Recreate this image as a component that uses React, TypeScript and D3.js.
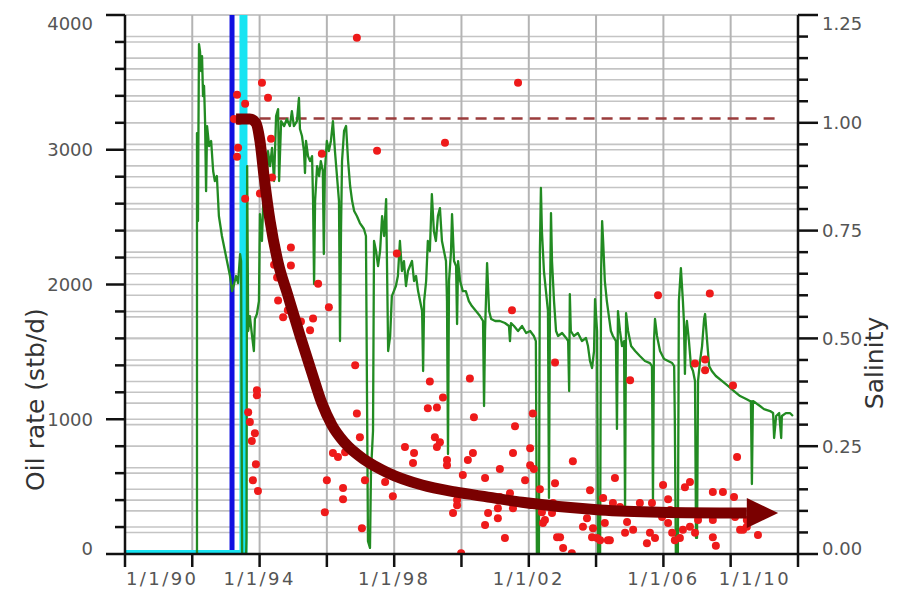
import React from 'react';
import * as d3 from 'd3';

// Oil rate (stb/d) over time, [decimal year, rate]
const oilRate: [number, number][] = [
  [1992.12, 0], [1992.14, 0], [1992.14, 3124], [1992.17, 2471], [1992.18, 2990], [1992.2, 3784],
  [1992.23, 3732], [1992.26, 3584], [1992.29, 3695], [1992.32, 3398], [1992.35, 3473], [1992.38, 3213],
  [1992.41, 2693], [1992.44, 3176], [1992.5, 3027], [1992.56, 3065], [1992.62, 2842], [1992.67, 2768],
  [1992.73, 2805], [1992.79, 2508], [1992.88, 2360], [1992.97, 2248], [1993.06, 2137], [1993.12, 2063],
  [1993.18, 1951], [1993.24, 2003], [1993.3, 2063], [1993.36, 2011], [1993.42, 2226], [1993.45, 2174],
  [1993.48, 0], [1993.6, 0], [1993.61, 119], [1993.63, 2879], [1993.66, 1655], [1993.71, 1766],
  [1993.77, 1632], [1993.83, 1506], [1993.86, 1744], [1993.92, 1781], [1993.98, 1877], [1994.01, 2523],
  [1994.07, 2323], [1994.13, 2768], [1994.19, 2582], [1994.25, 2990], [1994.31, 2879], [1994.37, 3013],
  [1994.43, 2768], [1994.49, 3250], [1994.55, 3302], [1994.58, 2768], [1994.64, 3213], [1994.73, 3176],
  [1994.81, 3228], [1994.9, 3176], [1994.96, 3287], [1995.02, 3176], [1995.11, 3213], [1995.17, 3384],
  [1995.2, 3154], [1995.26, 3102], [1995.32, 2990], [1995.35, 2827], [1995.38, 3065], [1995.44, 2953],
  [1995.5, 2916], [1995.56, 2953], [1995.59, 2619], [1995.62, 2003], [1995.65, 2619], [1995.71, 2879],
  [1995.77, 2805], [1995.82, 2916], [1995.88, 2842], [1995.91, 2226], [1995.94, 2842], [1996.0, 3065],
  [1996.06, 2990], [1996.12, 3065], [1996.18, 3213], [1996.24, 2990], [1996.3, 2805], [1996.36, 2619],
  [1996.39, 1580], [1996.42, 2397], [1996.45, 2916], [1996.51, 3139], [1996.57, 3176], [1996.63, 2916],
  [1996.69, 2731], [1996.75, 2619], [1996.81, 2545], [1996.89, 2508], [1996.98, 2456], [1997.04, 2434],
  [1997.1, 2412], [1997.16, 2360], [1997.22, 96], [1997.28, 45], [1997.31, 616], [1997.37, 913],
  [1997.4, 2323], [1997.46, 2248], [1997.52, 2137], [1997.58, 2248], [1997.64, 2508], [1997.7, 2360],
  [1997.76, 2634], [1997.82, 1506], [1997.88, 1618], [1997.93, 1914], [1997.99, 1951], [1998.05, 1989],
  [1998.11, 2063], [1998.17, 2323], [1998.23, 2100], [1998.29, 2174], [1998.35, 1989], [1998.41, 2100],
  [1998.47, 2137], [1998.53, 2174], [1998.59, 2026], [1998.65, 2063], [1998.71, 1951], [1998.77, 1877],
  [1998.83, 1803], [1998.86, 1358], [1998.89, 1877], [1998.95, 2026], [1999.0, 2323], [1999.06, 2248],
  [1999.12, 2671], [1999.18, 2397], [1999.24, 2323], [1999.3, 2508], [1999.36, 2567], [1999.42, 2323],
  [1999.48, 2248], [1999.54, 2174], [1999.57, 1877], [1999.6, 742], [1999.63, 2026], [1999.69, 2248],
  [1999.72, 2523], [1999.78, 2174], [1999.84, 2137], [1999.87, 1707], [1999.9, 2174], [1999.96, 2026],
  [2000.04, 1951], [2000.13, 1951], [2000.22, 1877], [2000.31, 1840], [2000.43, 1803], [2000.55, 1766],
  [2000.64, 1729], [2000.67, 1098], [2000.7, 1655], [2000.76, 2159], [2000.82, 1803], [2000.88, 1744],
  [2001.0, 1729], [2001.14, 1729], [2001.29, 1714], [2001.41, 1692], [2001.44, 1580], [2001.47, 1714],
  [2001.56, 1692], [2001.68, 1655], [2001.8, 1692], [2001.92, 1640], [2002.04, 1655], [2002.15, 1618],
  [2002.21, 1580], [2002.24, 0], [2002.3, 0], [2002.33, 2248], [2002.36, 2716], [2002.39, 2397],
  [2002.45, 2100], [2002.51, 1951], [2002.57, 1803], [2002.6, 416], [2002.63, 1877], [2002.66, 2530],
  [2002.69, 2174], [2002.75, 1877], [2002.81, 1655], [2002.87, 1618], [2002.99, 1640], [2003.11, 1603],
  [2003.17, 1580], [2003.2, 1209], [2003.22, 1929], [2003.25, 1655], [2003.34, 1618], [2003.46, 1640],
  [2003.58, 1580], [2003.7, 1603], [2003.76, 1543], [2003.82, 1432], [2003.88, 1380], [2003.94, 1506],
  [2003.97, 1892], [2004.03, 1655], [2004.06, 0], [2004.12, 0], [2004.15, 2100], [2004.18, 2471],
  [2004.21, 2323], [2004.26, 2026], [2004.32, 1877], [2004.38, 1766], [2004.44, 1655], [2004.5, 1618],
  [2004.59, 1580], [2004.62, 928], [2004.65, 1803], [2004.71, 1655], [2004.77, 1543], [2004.83, 1580],
  [2004.86, 319], [2004.89, 1788], [2004.95, 1655], [2005.04, 1543], [2005.16, 1506], [2005.3, 1469],
  [2005.45, 1432], [2005.6, 1417], [2005.66, 1395], [2005.69, 393], [2005.72, 1580], [2005.75, 1744],
  [2005.81, 1618], [2005.9, 1506], [2006.02, 1447], [2006.14, 1432], [2006.26, 1417], [2006.32, 1395],
  [2006.34, 987], [2006.37, 0], [2006.43, 0], [2006.46, 1877], [2006.52, 2122], [2006.58, 1877],
  [2006.61, 1729], [2006.64, 1336], [2006.67, 1655], [2006.7, 1729], [2006.76, 1580], [2006.82, 1395],
  [2006.88, 1358], [2006.94, 1284], [2006.97, 119], [2007.0, 119], [2007.03, 1284], [2007.09, 1432],
  [2007.15, 1543], [2007.21, 1744], [2007.24, 1781], [2007.3, 1580], [2007.36, 1395], [2007.44, 1358],
  [2007.56, 1321], [2007.74, 1284], [2007.92, 1247], [2008.1, 1209], [2008.28, 1172], [2008.46, 1150],
  [2008.57, 1135], [2008.6, 1135], [2008.63, 519], [2008.66, 1135], [2008.75, 1120], [2008.87, 1098],
  [2008.99, 1075], [2009.17, 1061], [2009.26, 1046], [2009.29, 861], [2009.35, 1024], [2009.44, 1046],
  [2009.5, 861], [2009.52, 1024], [2009.64, 1046], [2009.76, 1046], [2009.85, 1024],
];

// Measured produced-water salinity, [decimal year, salinity]
const salinitySamples: [number, number][] = [
  [1994.07, 1.093], [1994.25, 1.058], [1993.33, 1.065], [1993.57, 1.044], [1993.24, 1.009], [1993.39, 1.005],
  [1993.36, 0.942], [1993.33, 0.921], [1993.57, 0.824], [1994.34, 0.963], [1994.37, 0.873], [1994.01, 0.836],
  [1994.93, 0.711], [1994.93, 0.669], [1994.43, 0.671], [1994.52, 0.641], [1994.55, 0.588], [1994.7, 0.549],
  [1994.84, 0.565], [1995.23, 0.539], [1995.59, 0.546], [1995.5, 0.519], [1993.92, 0.38], [1993.92, 0.368],
  [1993.66, 0.329], [1993.71, 0.306], [1993.86, 0.28], [1993.77, 0.262], [1993.89, 0.208], [1993.8, 0.171],
  [1993.95, 0.146], [1995.85, 0.928], [1995.74, 0.627], [1996.06, 0.572], [1996.84, 0.438], [1997.49, 0.935],
  [1999.51, 0.954], [2001.68, 1.093], [1996.89, 1.197], [1998.08, 0.697], [2001.5, 0.565], [1996.89, 0.326],
  [1996.98, 0.271], [1996.18, 0.234], [1996.33, 0.225], [1996.54, 0.236], [1996.0, 0.171], [1996.48, 0.153],
  [1996.48, 0.127], [1995.94, 0.097], [1997.04, 0.06], [1997.13, 0.171], [1997.73, 0.167], [1997.96, 0.134],
  [1998.32, 0.248], [1998.59, 0.234], [1998.56, 0.211], [1999.06, 0.4], [1999.0, 0.338], [1999.27, 0.34],
  [1999.45, 0.363], [1999.21, 0.271], [1999.36, 0.259], [1999.27, 0.248], [1999.57, 0.218], [1999.57, 0.206],
  [2000.25, 0.407], [2000.37, 0.317], [2000.34, 0.234], [2000.19, 0.218], [2000.04, 0.183], [1999.87, 0.125],
  [1999.87, 0.113], [1999.75, 0.095], [1999.99, 0.002], [2000.7, 0.176], [2001.14, 0.197], [2000.79, 0.095],
  [2001.08, 0.083], [2000.7, 0.067], [2001.29, 0.037], [2001.59, 0.296], [2001.53, 0.234], [2002.12, 0.326],
  [2002.04, 0.245], [2002.04, 0.206], [2002.15, 0.197], [2001.89, 0.171], [2002.78, 0.444], [2002.78, 0.164],
  [2002.33, 0.15], [2002.42, 0.072], [2002.84, 0.039], [2003.02, 0.014], [2003.28, 0.002], [2003.31, 0.215],
  [2003.82, 0.148], [2003.73, 0.083], [2003.91, 0.06], [2004.03, 0.037], [2002.39, 0.097], [2002.69, 0.095],
  [2001.95, 0.118], [2001.53, 0.106], [2001.14, 0.132], [2001.44, 0.141], [2000.76, 0.132], [2001.08, 0.106],
  [2005.01, 0.403], [2004.56, 0.176], [2005.99, 0.16], [2006.14, 0.127], [2006.79, 0.167], [2006.64, 0.155],
  [2008.19, 0.225], [2007.47, 0.144], [2007.77, 0.144], [2008.1, 0.132], [2006.94, 0.442], [2007.24, 0.451],
  [2007.24, 0.426], [2008.07, 0.391], [2008.37, 0.056], [2008.81, 0.044], [2007.56, 0.019], [2004.21, 0.13],
  [2004.5, 0.118], [2004.26, 0.072], [2004.41, 0.032], [2004.92, 0.074], [2004.86, 0.049], [2005.6, 0.049],
  [2005.75, 0.037], [2005.51, 0.025], [2005.3, 0.118], [2005.66, 0.118], [2006.2, 0.102], [2006.14, 0.072],
  [2006.26, 0.049], [2006.34, 0.032], [2006.49, 0.037], [2006.58, 0.056], [2006.79, 0.063], [2006.94, 0.049],
  [2007.03, 0.079], [2007.18, 0.095], [2007.47, 0.079], [2008.13, 0.086], [2008.48, 0.063], [2008.48, 0.079],
  [2005.1, 0.056], [2005.96, 0.086], [2005.84, 0.6], [2007.38, 0.604], [2002.93, 0.039], [2003.61, 0.063],
  [2003.88, 0.039], [2004.12, 0.032], [2004.35, 0.032], [2004.71, 0.109], [2005.22, 0.095], [2002.72, 0.118],
  [2002.48, 0.079], [2007.47, 0.039], [2008.28, 0.056],
];

// Salinity decline trend, last point is the arrow tip
const salinityTrend: [number, number][] = [
  [1993.3, 1.009], [1993.71, 1.009], [1993.89, 1.0], [1994.01, 0.958], [1994.13, 0.877], [1994.31, 0.773],
  [1994.55, 0.676], [1994.84, 0.6], [1995.2, 0.507], [1995.56, 0.419], [1995.85, 0.35], [1996.15, 0.299],
  [1996.54, 0.257], [1997.13, 0.218], [1997.82, 0.188], [1998.83, 0.16], [1999.81, 0.144], [2000.79, 0.132],
  [2001.8, 0.12], [2004.12, 0.102], [2005.9, 0.097], [2008.48, 0.095], [2009.41, 0.095],
];

// Initial (formation water) salinity reference
const initialSalinity: [number, number][] = [[1994.0, 1.01], [2009.35, 1.01]];

// Injection curve (cyan) and the first-event marker date (blue)
const injection: [number, number][] = [[1990.0, 0], [1993.52, 0], [1993.52, 4600]];
const markerYear = 1993.18;

const rateLabels = [0, 1000, 2000, 3000, 4000];
const salinityLabels = ['0.00', '0.25', '0.50', '0.75', '1.00', '1.25'];
const dateLabelYears = [1990, 1994, 1998, 2002, 2006, 2010];

const W = 900;
const H = 589;
const L = 125;
const R = 798;
const T = 15;
const B = 554;

const toDate = (y: number) => {
  const yr = Math.floor(y);
  const a = new Date(yr, 0, 1).getTime();
  const b = new Date(yr + 1, 0, 1).getTime();
  return new Date(a + (y - yr) * (b - a));
};

export default function App() {
  const x = d3.scaleTime().domain([new Date(1990, 0, 1), new Date(2010, 0, 1)]).range([L, R]);
  const yRate = d3.scaleLinear().domain([0, 4000]).range([B, T]);
  const ySal = d3.scaleLinear().domain([0, 1.25]).range([B, T]);
  const fmt = d3.timeFormat('%-m/%-d/%y');

  const rateLine = d3.line<[number, number]>().x((d) => x(toDate(d[0]))).y((d) => yRate(d[1]));
  const salLine = d3.line<[number, number]>().x((d) => x(toDate(d[0]))).y((d) => ySal(d[1]));
  const trendLine = d3
    .line<[number, number]>()
    .x((d) => x(toDate(d[0])))
    .y((d) => ySal(d[1]))
    .curve(d3.curveMonotoneX);

  const yearTicks = x.ticks(d3.timeYear.every(2) as any);
  const rateTicks = d3.range(0, 4001, 200);
  const salTicks = d3.range(0, 26).map((i) => i * 0.05);

  const shaft = salinityTrend.slice(0, -1);
  const base = salinityTrend[salinityTrend.length - 2];
  const tip = salinityTrend[salinityTrend.length - 1];
  const bx = x(toDate(base[0]));
  const by = ySal(base[1]);
  const tx = x(toDate(tip[0]));
  const ty = ySal(tip[1]);
  const head = `M${bx},${by - 15}L${tx},${ty}L${bx},${by + 15}Z`;

  const font = 'DejaVu Sans, Verdana, sans-serif';

  const leftLabelY = (v: number) => {
    const yy = yRate(v);
    if (v === 4000) return yy + 15;
    if (v === 0) return yy + 1;
    return yy + 6.5;
  };
  const rightLabelY = (i: number) => {
    const yy = ySal(i * 0.25);
    if (i === 5) return yy + 15;
    if (i === 0) return yy + 1;
    return yy + 6.5;
  };

  return (
    <svg
      width={W}
      height={H}
      style={{ position: 'absolute', left: 0, top: 0, background: '#fff' }}
      fontFamily={font}
    >
      <defs>
        <clipPath id="plot-clip">
          <rect x={L} y={T} width={R - L} height={B - T} />
        </clipPath>
      </defs>
      <rect x={0} y={0} width={W} height={H} fill="#fff" />

      {/* grid */}
      <g stroke="#c4c4c4" strokeWidth={1.6}>
        {rateTicks.map((v) => (
          <line key={'gr' + v} x1={L} x2={R} y1={yRate(v)} y2={yRate(v)} />
        ))}
        {salTicks.map((v, i) => (
          <line key={'gs' + i} x1={L} x2={R} y1={ySal(v)} y2={ySal(v)} />
        ))}
      </g>
      <g stroke="#b4b4b4" strokeWidth={2}>
        {yearTicks.map((d, i) => (
          <line key={'gv' + i} x1={x(d)} x2={x(d)} y1={T} y2={B} />
        ))}
      </g>

      <g clipPath="url(#plot-clip)">
        <line
          x1={x(toDate(markerYear))}
          x2={x(toDate(markerYear))}
          y1={T}
          y2={B - 3}
          stroke="#1010e0"
          strokeWidth={5}
        />
        <path d={rateLine(injection) || ''} fill="none" stroke="#18e4f2" strokeWidth={8} />
        <path d={salLine(initialSalinity) || ''} fill="none" stroke="#9a3c3c" strokeWidth={2.5} strokeDasharray="11 7" />
        <path d={rateLine(oilRate) || ''} fill="none" stroke="#228b22" strokeWidth={2.3} strokeLinejoin="round" />
        {salinitySamples.map((d, i) => (
          <circle key={'s' + i} cx={x(toDate(d[0]))} cy={ySal(d[1])} r={4} fill="#ee1a1a" />
        ))}
        <path d={trendLine(shaft) || ''} fill="none" stroke="#7a0000" strokeWidth={11} strokeLinejoin="round" />
        <path d={head} fill="#7a0000" />
      </g>

      {/* axes */}
      <g stroke="#111" strokeWidth={2.5}>
        <line x1={L} x2={L} y1={T} y2={B} />
        <line x1={R} x2={R} y1={T} y2={B} />
        <line x1={L} x2={R} y1={B} y2={B} />
        {rateTicks.map((v) => (
          <line key={'tl' + v} x1={v % 1000 === 0 ? L - 19 : L - 10} x2={L} y1={yRate(v)} y2={yRate(v)} />
        ))}
        {salTicks.map((v, i) => (
          <line key={'tr' + i} x1={R} x2={i % 5 === 0 ? R + 20 : R + 10} y1={ySal(v)} y2={ySal(v)} />
        ))}
        {yearTicks.map((d, i) => (
          <line key={'tb' + i} x1={x(d)} x2={x(d)} y1={B} y2={B + 13} />
        ))}
      </g>

      <g fill="#555" fontSize={18}>
        {rateLabels.map((v) => (
          <text key={'ll' + v} x={93} y={leftLabelY(v)} textAnchor="end">
            {v}
          </text>
        ))}
        {salinityLabels.map((s, i) => (
          <text key={'rl' + i} x={822} y={rightLabelY(i)} textAnchor="start">
            {s}
          </text>
        ))}
        {dateLabelYears.map((yv, i) => {
          const d = new Date(yv, 0, 1);
          const first = i === 0;
          const last = i === dateLabelYears.length - 1;
          return (
            <text
              key={'dl' + yv}
              x={first ? x(d) + 1 : last ? x(d) - 7 : x(d)}
              y={585}
              textAnchor={first ? 'start' : last ? 'end' : 'middle'}
              letterSpacing={2.4}
            >
              {fmt(d)}
            </text>
          );
        })}
      </g>

      <text
        transform={`translate(44,${(T + B) / 2 + 115}) rotate(-90)`}
        textAnchor="middle"
        fontSize={25}
        fill="#333"
      >
        Oil rate (stb/d)
      </text>
      <text
        transform={`translate(883,363) rotate(-90)`}
        textAnchor="middle"
        fontSize={25}
        fill="#333"
      >
        Salinity
      </text>
    </svg>
  );
}
